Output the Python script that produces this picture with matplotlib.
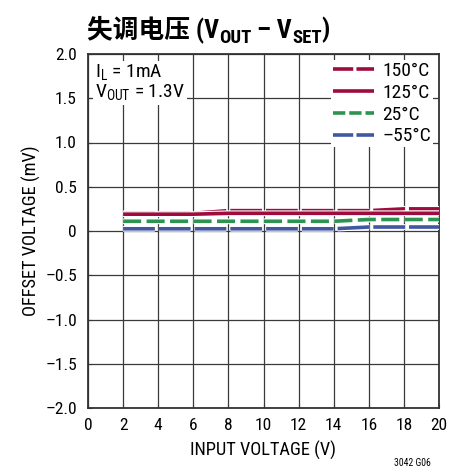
import matplotlib
matplotlib.use("Agg")
import matplotlib.pyplot as plt
from matplotlib import font_manager
import matplotlib.patheffects as pe

# data
input_v = [2, 4, 6, 8, 10, 12, 14, 16, 18, 20]
off_150 = [0.20, 0.20, 0.20, 0.23, 0.23, 0.23, 0.23, 0.23, 0.25, 0.25]
off_125 = [0.19, 0.19, 0.19, 0.20, 0.20, 0.20, 0.20, 0.20, 0.20, 0.20]
off_25 = [0.11, 0.11, 0.11, 0.11, 0.11, 0.11, 0.11, 0.13, 0.13, 0.13]
off_m55 = [0.025, 0.025, 0.025, 0.025, 0.025, 0.025, 0.025, 0.045, 0.045, 0.045]
labels = ["150°C", "125°C", "25°C", "–55°C"]
x_ticks = list(range(0, 21, 2))
y_ticks = [-2.0, -1.5, -1.0, -0.5, 0, 0.5, 1.0, 1.5, 2.0]
y_tick_labels = ["–2.0", "–1.5", "–1.0", "–0.5", "0", "0.5", "1.0", "1.5", "2.0"]

available = {f.name for f in font_manager.fontManager.ttflist}
base = "DejaVu Sans"
for cand in ["Roboto Condensed", "PT Sans Narrow", "Archivo Narrow"]:
    if cand in available:
        base = cand
        break
plt.rcParams["font.family"] = [base, "Noto Sans CJK SC", "DejaVu Sans"]
plt.rcParams["mathtext.fontset"] = "custom"
plt.rcParams["mathtext.rm"] = base

RED = "#9e0b3d"
GREEN = "#2c9350"
BLUE = "#4157a2"
GRID = "#3a3a3a"

fig = plt.figure(figsize=(4.66, 4.72), dpi=100)
ax = fig.add_axes([88 / 466, 64 / 472, 351 / 466, 354 / 472])

outline = [pe.Stroke(linewidth=4.2, foreground="white"), pe.Normal()]
# (values, colour, dashes on the plot, dashes in the legend)
series = [
    (off_150, RED, (8.8, 1.1), (5.6, 0.9)),
    (off_125, RED, None, None),
    (off_25, GREEN, (5, 1.5), (3.4, 1.1)),
    (off_m55, BLUE, (8.8, 1.1), (5.6, 0.9)),
]
handles = []
for values, color, dash, _ in series:
    line, = ax.plot(input_v, values, color=color, lw=2.6, solid_capstyle="butt",
                    dash_capstyle="butt", path_effects=outline, zorder=3)
    if dash is not None:
        line.set_dashes(dash)
    handles.append(line)

ax.set_xlim(0, 20)
ax.set_ylim(-2.0, 2.0)
ax.set_xticks(x_ticks)
ax.set_yticks(y_ticks)
ax.set_yticklabels(y_tick_labels)
ax.tick_params(labelsize=12.5, length=3, direction="in", color=GRID)
ax.tick_params(axis="x", pad=7)
ax.tick_params(axis="y", pad=8)
ax.grid(True, color=GRID, lw=0.9, zorder=1)
for spine in ax.spines.values():
    spine.set_color("#333333")
    spine.set_linewidth(1.3)

ax.set_xlabel("INPUT VOLTAGE (V)", fontsize=13.2, labelpad=6)
ax.set_ylabel("OFFSET VOLTAGE (mV)", fontsize=13.2, labelpad=3)

leg = ax.legend(handles, labels, loc="upper right", fontsize=14, frameon=True,
                fancybox=False, handlelength=2.1, handletextpad=0.45,
                labelspacing=0.2, borderpad=0.1, borderaxespad=0.3)
leg.get_frame().set_edgecolor("none")
leg.get_frame().set_facecolor("white")
leg.get_frame().set_alpha(1.0)
for h, (_, _, _, ldash) in zip(leg.legend_handles, series):
    h.set_path_effects([])
    if ldash is not None:
        h.set_dashes(ldash)

ax.text(0.02, 0.975, "I$_\\mathregular{L}$ = 1mA\nV$_\\mathregular{OUT}$ = 1.3V",
        transform=ax.transAxes, fontsize=14, va="top", ha="left", linespacing=0.95,
        bbox=dict(facecolor="white", edgecolor="none", pad=1.5), zorder=5)

# title built piece by piece so the subscripts sit right
tfont = dict(fontsize=18.5, fontweight="bold")
t1 = fig.text(87 / 466, 1 - 37 / 472, "失调电压 (V", **tfont)
t2 = ax.annotate("OUT", xy=(1, 0), xycoords=t1, xytext=(0, -3), textcoords="offset points",
                 fontsize=13.5, fontweight="bold", va="bottom", annotation_clip=False)
t3 = ax.annotate(" – V", xy=(1, 0), xycoords=t2, xytext=(0, 3), textcoords="offset points",
                 va="bottom", annotation_clip=False, **tfont)
t4 = ax.annotate("SET", xy=(1, 0), xycoords=t3, xytext=(0, -3), textcoords="offset points",
                 fontsize=13.5, fontweight="bold", va="bottom", annotation_clip=False)
ax.annotate(")", xy=(1, 0), xycoords=t4, xytext=(0, 3), textcoords="offset points",
            va="bottom", annotation_clip=False, **tfont)

fig.text(431 / 466, 1 - 468 / 472, "3042 G06", fontsize=7, ha="right", va="bottom")

fig.savefig("out.png", dpi=100)
